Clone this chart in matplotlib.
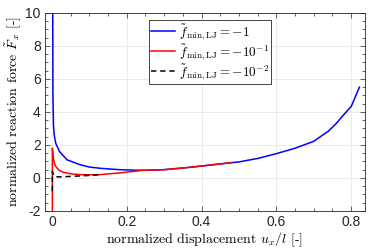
import matplotlib
matplotlib.use("Agg")
import matplotlib.pyplot as plt
from matplotlib.ticker import MultipleLocator

plt.rcParams["mathtext.fontset"] = "cm"
plt.rcParams["font.family"] = ["Liberation Sans", "DejaVu Sans"]

# values
x_blue = [0.002, 0.0025, 0.004, 0.006, 0.01, 0.02, 0.04, 0.075, 0.1, 0.13,
          0.18, 0.22, 0.25, 0.3, 0.35, 0.4, 0.45, 0.5, 0.55, 0.6, 0.65,
          0.7, 0.74, 0.76, 0.78, 0.8, 0.822]
y_blue = [10.5, 5.0, 3.2, 2.6, 2.1, 1.6, 1.1, 0.8, 0.66, 0.58,
          0.5, 0.47, 0.46, 0.5, 0.6, 0.72, 0.85, 0.97, 1.18, 1.47, 1.8,
          2.22, 2.85, 3.3, 3.83, 4.33, 5.5]

x_red = [0.001, 0.001, 0.002, 0.0035, 0.0075, 0.0125, 0.02, 0.03, 0.05,
         0.075, 0.1, 0.128, 0.18, 0.243, 0.3, 0.35, 0.4, 0.45, 0.48]
y_red = [-2.5, 1.8, 1.6, 1.2, 0.8, 0.62, 0.45, 0.34, 0.25,
         0.2, 0.19, 0.2, 0.3, 0.46, 0.5, 0.6, 0.72, 0.85, 0.93]

x_black = [0.001, 0.001, 0.005, 0.017, 0.03, 0.057, 0.1, 0.13]
y_black = [-0.8, 0.4, 0.1, 0.06, 0.07, 0.1, 0.15, 0.2]

labels = [r"$\tilde{f}_{\mathrm{min,LJ}} = -1$",
          r"$\tilde{f}_{\mathrm{min,LJ}} = -10^{-1}$",
          r"$\tilde{f}_{\mathrm{min,LJ}} = -10^{-2}$"]

fig = plt.figure(figsize=(3.74, 2.49), dpi=100)
ax = fig.add_axes([0.120, 0.153, 0.856, 0.795])

ax.plot(x_blue, y_blue, color="#0000ff", lw=1.1, label=labels[0])
ax.plot(x_red, y_red, color="#ff0000", lw=1.1, label=labels[1])
ax.plot(x_black, y_black, color="black", lw=1.1, ls=(0, (3.5, 2.5)), label=labels[2])

ax.set_xlim(-0.019, 0.837)
ax.set_ylim(-2, 10)
ax.xaxis.set_minor_locator(MultipleLocator(0.05))
ax.yaxis.set_minor_locator(MultipleLocator(0.5))
ax.set_xticks([0, 0.2, 0.4, 0.6, 0.8])
ax.set_xticklabels(["0", "0.2", "0.4", "0.6", "0.8"])
ax.set_yticks([-2, 0, 2, 4, 6, 8, 10])
ax.set_yticklabels(["-2", "0", "2", "4", "6", "8", "10"])

ax.tick_params(which="both", direction="in", top=True, right=True,
               labelsize=10, colors="#262626", width=0.5)
ax.tick_params(which="major", length=3.5, pad=3)
ax.tick_params(which="minor", length=2)
ax.grid(True, which="major", color="#e6e6e6", lw=0.6)
ax.set_axisbelow(True)
for s in ax.spines.values():
    s.set_linewidth(0.6)
    s.set_color("#262626")

ax.set_xlabel(r"normalized displacement $u_x/l$ [-]", family="cmr10",
              fontsize=10, labelpad=1)
ax.set_ylabel(r"normalized reaction force $\tilde{F}_x$ [-]", family="cmr10",
              fontsize=10, labelpad=2)

leg = ax.legend(loc="upper left", bbox_to_anchor=(0.325, 0.965), fontsize=9.5,
                frameon=True, fancybox=False, borderaxespad=0,
                handlelength=1.8, handletextpad=0.3, labelspacing=0.0,
                borderpad=0.15)
leg.get_frame().set_edgecolor("#262626")
leg.get_frame().set_linewidth(0.6)
leg.get_frame().set_alpha(1)

fig.savefig("out.png", dpi=100)
